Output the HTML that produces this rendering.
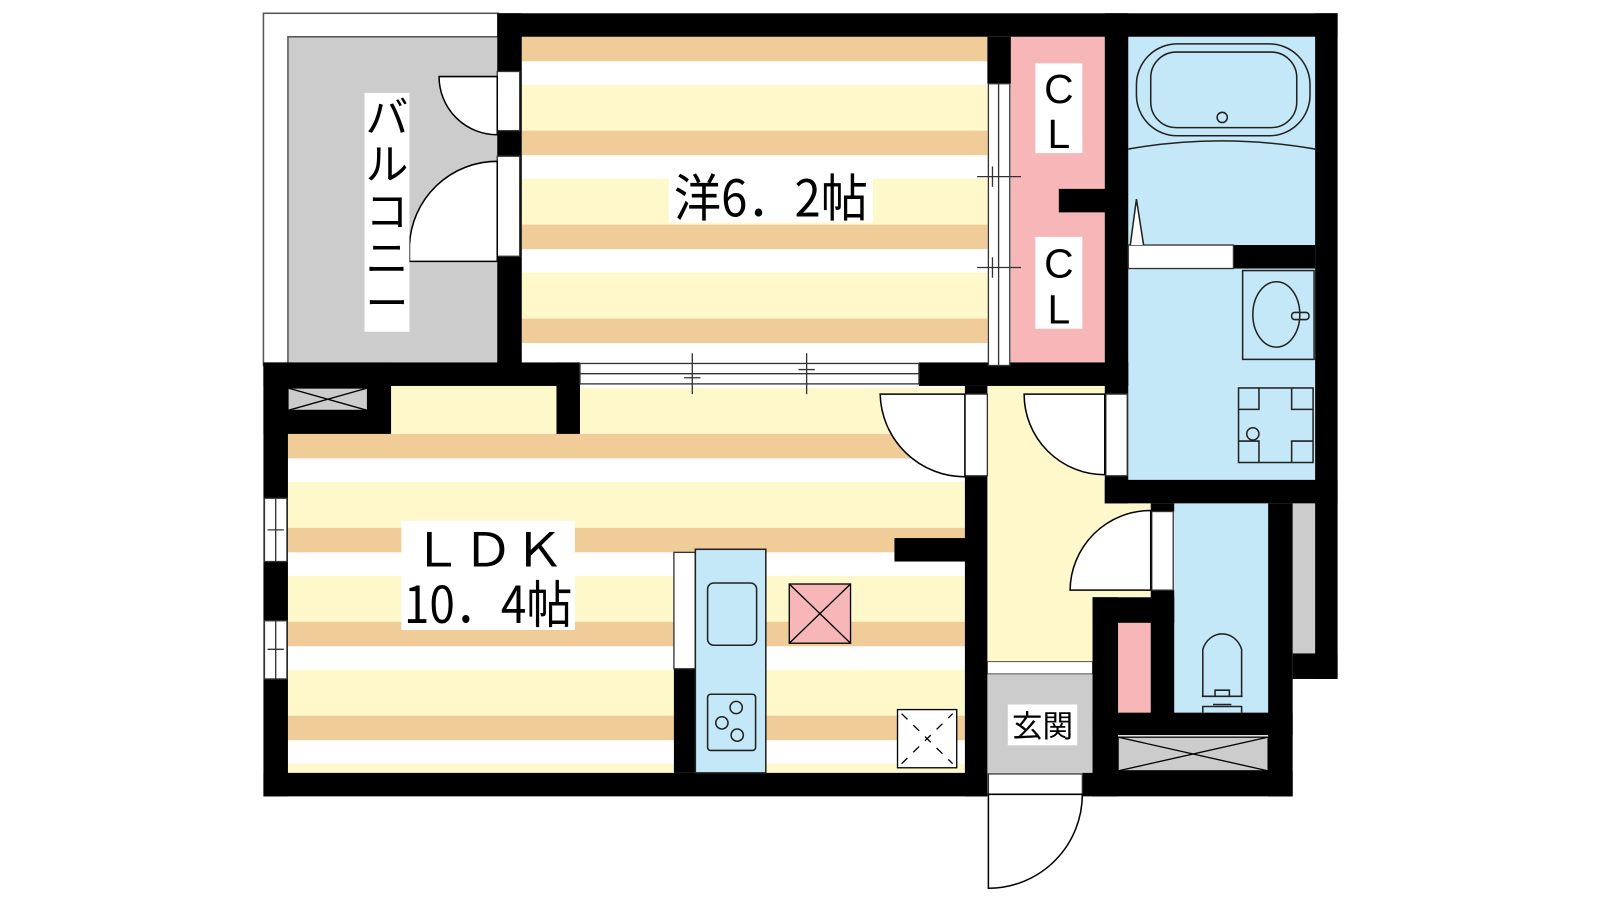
<!DOCTYPE html>
<html><head><meta charset="utf-8"><style>
html,body{margin:0;padding:0;background:#fff;}
svg{display:block}
text{font-family:"Liberation Sans","Noto Sans CJK JP",sans-serif;fill:#000}
.j{font-family:"Noto Sans CJK JP","Liberation Sans",sans-serif}
</style></head><body>
<svg width="1600" height="900" viewBox="0 0 1567 881.5" preserveAspectRatio="none" xmlns="http://www.w3.org/2000/svg">
<defs>
<pattern id="s1" patternUnits="userSpaceOnUse" x="0" y="36" width="10" height="92">
<rect width="10" height="92" fill="#fef8cb"/><rect width="10" height="24" fill="#f0cc98"/><rect y="24" width="10" height="23" fill="#fff"/>
</pattern>
<pattern id="s2" patternUnits="userSpaceOnUse" x="0" y="425" width="10" height="92">
<rect width="10" height="92" fill="#fef8cb"/><rect width="10" height="24" fill="#f0cc98"/><rect y="24" width="10" height="23" fill="#fff"/>
</pattern>
</defs>
<g stroke="none">
<rect x="258" y="13" width="230" height="345" fill="#fff" stroke="#555" stroke-width="1.5"/>
<rect x="282" y="36" width="206" height="322" fill="#cccccc" stroke="#555" stroke-width="1.5"/>
<rect x="511" y="36" width="456" height="322" fill="url(#s1)"/>
<rect x="990" y="36" width="92" height="322" fill="#f7b6b7"/>
<rect x="1105" y="36" width="183" height="434" fill="#c4e8f8"/>
<rect x="282" y="378" width="663" height="379" fill="url(#s2)"/>
<rect x="383" y="378" width="162" height="47" fill="#fef8cb"/>
<rect x="967" y="378" width="115" height="272" fill="#fef8cb"/>
<rect x="1082" y="493" width="45" height="92" fill="#fef8cb"/>
<rect x="1150" y="493" width="92" height="205" fill="#c4e8f8"/>
<rect x="1266" y="493" width="22" height="147" fill="#cccccc"/>
<rect x="967" y="660" width="103" height="97" fill="#cccccc"/>
<rect x="967" y="648" width="103" height="12" fill="#fff" stroke="#555" stroke-width="1"/>
<rect x="1072" y="612" width="21" height="86" fill="#fff" stroke="#555" stroke-width="1"/>
<rect x="1095" y="608" width="32" height="90" fill="#f7b6b7"/>
</g>
<g fill="#000">
<rect x="487" y="13" width="823" height="23"/>
<rect x="487" y="13" width="24" height="345"/>
<rect x="258" y="355" width="310" height="23"/>
<rect x="900" y="355" width="205" height="23"/>
<rect x="258" y="355" width="24" height="425"/>
<rect x="258" y="355" width="125" height="70"/>
<rect x="545" y="355" width="23" height="70"/>
<rect x="967" y="36" width="23" height="46"/>
<rect x="1082" y="13" width="23" height="480"/>
<rect x="1037" y="185" width="50" height="23"/>
<rect x="1288" y="13" width="22" height="652"/>
<rect x="1208" y="240" width="80" height="23"/>
<rect x="1082" y="470" width="228" height="23"/>
<rect x="1127" y="493" width="23" height="8"/>
<rect x="1127" y="578" width="23" height="130"/>
<rect x="1070" y="585" width="80" height="25"/>
<rect x="1070" y="585" width="25" height="195"/>
<rect x="1242" y="493" width="24" height="287"/>
<rect x="1266" y="640" width="44" height="25"/>
<rect x="1070" y="698" width="196" height="22"/>
<rect x="1070" y="755" width="196" height="25"/>
<rect x="945" y="378" width="22" height="402"/>
<rect x="876" y="527" width="70" height="23"/>
<rect x="258" y="757" width="709" height="23"/>
<rect x="1060" y="757" width="12" height="23"/>
<rect x="660" y="655" width="21" height="102"/>
</g>
<g fill="#fff" stroke="#333" stroke-width="1.3">
<rect x="487" y="70" width="22" height="58"/>
<rect x="487" y="153" width="22" height="98"/>
<rect x="568" y="356" width="332" height="20"/>
<rect x="259" y="488" width="22" height="62"/>
<rect x="259" y="608" width="22" height="57"/>
<rect x="968" y="82" width="21" height="276"/>
<rect x="945" y="386" width="22" height="80"/>
<rect x="1083" y="386" width="21" height="80"/>
<rect x="1128" y="501" width="21" height="77"/>
<rect x="968" y="758" width="92" height="20"/>
<rect x="1105" y="240" width="103" height="23"/>
<rect x="660" y="541" width="21" height="114"/>
</g>
<g stroke="#333" stroke-width="1.3" fill="none">
<line x1="568" y1="366" x2="900" y2="366"/>
<line x1="678" y1="346" x2="678" y2="386"/><line x1="670" y1="370" x2="686" y2="370"/>
<line x1="790" y1="346" x2="790" y2="386"/><line x1="782" y1="362" x2="798" y2="362"/>
<line x1="978" y1="82" x2="978" y2="358"/>
<line x1="957" y1="173" x2="1000" y2="173"/><line x1="972" y1="163" x2="972" y2="183"/>
<line x1="957" y1="262" x2="1000" y2="262"/><line x1="972" y1="252" x2="972" y2="272"/>
<line x1="270" y1="488" x2="270" y2="550"/><line x1="262" y1="519" x2="278" y2="519"/>
<line x1="270" y1="608" x2="270" y2="665"/><line x1="262" y1="636" x2="278" y2="636"/>
</g>
<g stroke="#000" stroke-width="1.5" fill="#fff">
<path d="M487 75 L430 75 A57 57 0 0 0 487 132 Z"/>
<path d="M487 256 L401 256 L401 240 A86 86 0 0 1 487 158 Z"/>
<path d="M945 386 L862 386 A83 83 0 0 0 945 467 Z"/>
<path d="M1082 386 L1003 386 A79 79 0 0 0 1082 465 Z"/>
<path d="M1127 578 L1048 578 A79 79 0 0 1 1127 500 Z"/>
<path d="M968 778 L968 870 A92 92 0 0 0 1060 778 Z"/>
</g>
<g stroke="#000" stroke-width="1.3">
<rect x="282" y="380" width="78" height="22" fill="#ccc"/>
<line x1="282" y1="380" x2="360" y2="402"/><line x1="282" y1="402" x2="360" y2="380"/>
<rect x="1095" y="722" width="147" height="33" fill="#ccc"/>
<line x1="1095" y1="722" x2="1242" y2="755"/><line x1="1095" y1="755" x2="1242" y2="722"/>
<rect x="773" y="572" width="60" height="58" fill="#f7b6b7"/>
<line x1="773" y1="572" x2="833" y2="630"/><line x1="773" y1="630" x2="833" y2="572"/>
<rect x="879" y="695" width="58" height="57" fill="#fff"/>
<line x1="883" y1="699" x2="933" y2="748" stroke-dasharray="8,8"/><line x1="883" y1="748" x2="933" y2="699" stroke-dasharray="8,8"/>
</g>
<g stroke="#222" stroke-width="1.5" fill="none">
<rect x="1113" y="43" width="170" height="90" rx="40"/>
<rect x="1127" y="51" width="143" height="74" rx="25"/>
<circle cx="1197" cy="115" r="5"/>
<path d="M1105 146 Q1195 130 1288 146"/>
<path d="M1107 240 L1113 195 L1120 240" fill="#fff"/>
<rect x="1217" y="265" width="70" height="87"/>
<ellipse cx="1250" cy="308" rx="23" ry="32"/>
<rect x="1265" y="306" width="17" height="7" rx="3"/>
<rect x="1213" y="380" width="73" height="73"/>
<path d="M1213 401 H1233 V380 M1265 380 V401 H1286 M1213 432 H1233 V453 M1265 453 V432 H1286"/>
<circle cx="1227" cy="425" r="6"/>
<path d="M1178 682 V636 A20 22 0 0 1 1216 636 V682"/>
<path d="M1177 682 H1217 M1190 682 V676 H1204 V682 M1188 690 H1206 M1178 698 V692 H1216 V698"/>
<rect x="681" y="538" width="69" height="219" fill="#c4e8f8"/>
<rect x="693" y="571" width="48" height="61" rx="6"/>
<rect x="693" y="680" width="47" height="55" rx="3"/>
<circle cx="707" cy="708" r="6"/><circle cx="721" cy="693" r="6"/><circle cx="722" cy="720" r="6"/>
</g>
<rect x="357" y="91" width="44" height="234" fill="#fff"/>
<g font-size="42" class="j">
<text class="j" x="379" y="130" text-anchor="middle">バ</text>
<text class="j" x="379" y="176" text-anchor="middle">ル</text>
<text class="j" x="379" y="222" text-anchor="middle">コ</text>
<text class="j" x="379" y="268" text-anchor="middle">ニ</text>
<text class="j" x="379" y="312" text-anchor="middle">ー</text>
</g>
<rect x="655" y="165" width="200" height="53" fill="#fff"/>
<text class="j" x="755" y="212" font-size="50" text-anchor="middle" textLength="190" lengthAdjust="spacingAndGlyphs">洋6．2帖</text>
<rect x="1014" y="62" width="46" height="88" fill="#fff"/>
<rect x="1014" y="232" width="46" height="90" fill="#fff"/>
<g font-size="40" text-anchor="middle">
<text x="1037" y="101">C</text><text x="1037" y="145">L</text>
<text x="1037" y="272">C</text><text x="1037" y="317">L</text>
</g>
<rect x="393" y="510" width="170" height="107" fill="#fff"/>
<text class="j" x="478" y="555" font-size="46" text-anchor="middle" textLength="150" lengthAdjust="spacingAndGlyphs">ＬＤＫ</text>
<text class="j" x="478" y="610" font-size="50" text-anchor="middle" textLength="165" lengthAdjust="spacingAndGlyphs">10．4帖</text>
<rect x="987" y="690" width="68" height="40" fill="#fff"/>
<text class="j" x="1021" y="722" font-size="30" text-anchor="middle">玄関</text>
</svg>
</body></html>
